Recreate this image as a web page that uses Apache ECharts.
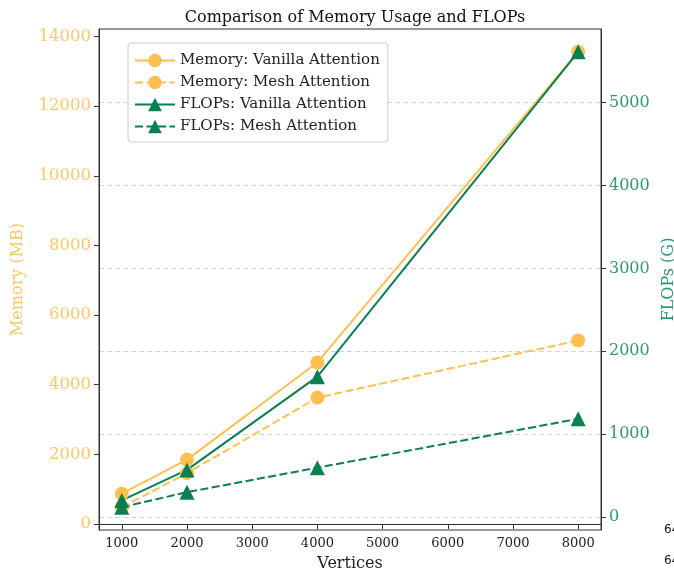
<!DOCTYPE html>
<html><head><meta charset="utf-8">
<script src="https://cdn.jsdelivr.net/npm/echarts@6/dist/echarts.min.js"></script>
<style>html,body{margin:0;padding:0;background:#fff;}#c{width:674px;height:571px;}</style>
</head><body><div id="c"></div>
<script>
const vertices = [1000, 2000, 4000, 8000];
const memVanilla = [870, 1850, 4640, 13560];
const memMesh = [482, 1460, 3630, 5270];
const flopsVanilla = [200, 568, 1694, 5615];
const flopsMesh = [118, 300, 595, 1185];
const xTicks = [1000, 2000, 3000, 4000, 5000, 6000, 7000, 8000];
const memTicks = [0, 2000, 4000, 6000, 8000, 10000, 12000, 14000];
const flopsTicks = [0, 1000, 2000, 3000, 4000, 5000];

const ORANGE = '#FFC04F', ORANGE_T = '#FFC766';
const GREEN = '#0A7F50', GREEN_T = '#2E9A70';
const SERIF = 'DejaVu Serif';
const pairs = a => vertices.map((v, i) => [v, a[i]]);
const plain = v => String(v);

const chart = echarts.init(document.getElementById('c'));
const mk = (name, data, color, yIdx, dashed, symbol, size) => ({
  name, type: 'line', yAxisIndex: yIdx, data: pairs(data),
  symbol, symbolSize: size, showSymbol: true,
  lineStyle: { color, width: 2, type: dashed ? [8, 3.5] : 'solid' },
  itemStyle: { color, borderWidth: 0 },
  emphasis: { disabled: true }, animation: false
});
chart.setOption({
  animation: false,
  backgroundColor: '#fff',
  title: { text: 'Comparison of Memory Usage and FLOPs', left: 350, top: 5, textAlign: 'center',
    textStyle: { fontFamily: SERIF, fontSize: 16, fontWeight: 'normal', color: '#111' } },
  grid: { left: 99, right: 73, top: 29, bottom: 41, show: true, borderColor: '#333', borderWidth: 1,
    containLabel: false, outerBoundsMode: 'none' },
  legend: {
    orient: 'vertical', left: 128, top: 43, padding: [9, 8, 7, 6],
    itemWidth: 40, itemHeight: 17, itemGap: 5,
    backgroundColor: '#fff', borderColor: '#ccc', borderWidth: 1, borderRadius: 3,
    textStyle: { fontFamily: SERIF, fontSize: 15, color: '#222', lineHeight: 17 },
    data: ['Memory: Vanilla Attention', 'Memory: Mesh Attention', 'FLOPs: Vanilla Attention', 'FLOPs: Mesh Attention']
  },
  xAxis: {
    type: 'value', min: 650, max: 8350,
    name: 'Vertices', nameLocation: 'middle', nameGap: 26,
    nameTextStyle: { fontFamily: SERIF, fontSize: 16, color: '#222' },
    axisLine: { lineStyle: { color: '#333' } },
    axisTick: { customValues: xTicks, length: 5, lineStyle: { color: '#333' } },
    axisLabel: { customValues: xTicks, formatter: plain, fontFamily: SERIF, fontSize: 13, color: '#222', margin: 7 },
    splitLine: { show: false }
  },
  yAxis: [
    {
      type: 'value', min: -172, max: 14215, position: 'left',
      name: 'Memory (MB)', nameLocation: 'middle', nameGap: 73, nameRotate: 90,
      nameTextStyle: { fontFamily: SERIF, fontSize: 16, color: ORANGE_T },
      axisLine: { show: true, lineStyle: { color: '#333' } },
      axisTick: { show: true, customValues: memTicks, length: 5, lineStyle: { color: '#333' } },
      axisLabel: { customValues: memTicks, formatter: plain, fontFamily: SERIF, fontSize: 16.5, color: ORANGE_T, margin: 8 },
      splitLine: { show: false }
    },
    {
      type: 'value', min: -157, max: 5890, position: 'right',
      name: 'FLOPs (G)', nameLocation: 'middle', nameGap: 56, nameRotate: 90,
      nameTextStyle: { fontFamily: SERIF, fontSize: 16, color: GREEN_T },
      axisLine: { show: true, lineStyle: { color: '#333' } },
      axisTick: { show: true, customValues: flopsTicks, length: 5, lineStyle: { color: '#333' } },
      axisLabel: { customValues: flopsTicks, formatter: plain, fontFamily: SERIF, fontSize: 16, color: GREEN_T, margin: 8 },
      splitLine: { show: true, lineStyle: { color: '#d5d5d5', type: [5, 3], width: 1 } }
    }
  ],
  graphic: [
    { type: 'text', left: 664, top: 524, style: { text: '64', font: '12px "DejaVu Sans"', fill: '#111' } },
    { type: 'text', left: 664, top: 555, style: { text: '64', font: '12px "DejaVu Sans"', fill: '#111' } }
  ],
  series: [
    mk('Memory: Vanilla Attention', memVanilla, ORANGE, 0, false, 'circle', 14),
    mk('Memory: Mesh Attention', memMesh, ORANGE, 0, true, 'circle', 14),
    mk('FLOPs: Vanilla Attention', flopsVanilla, GREEN, 1, false, 'triangle', 15),
    mk('FLOPs: Mesh Attention', flopsMesh, GREEN, 1, true, 'triangle', 15)
  ]
});
</script></body></html>
